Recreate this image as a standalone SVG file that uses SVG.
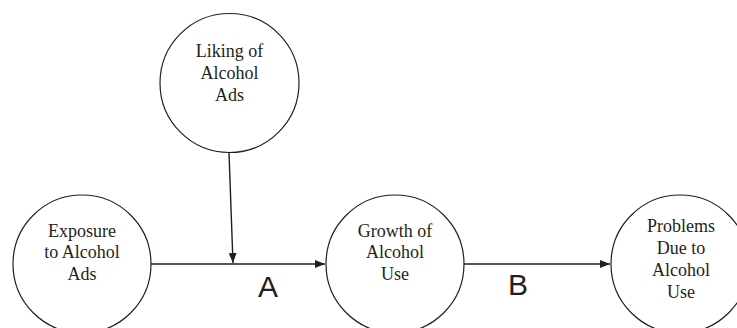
<svg xmlns="http://www.w3.org/2000/svg" width="737" height="328" viewBox="0 0 737 328">
<style>
.node circle{fill:#fff;stroke:#231f20;stroke-width:1.2}
.node text{font-family:"Liberation Serif","Times New Roman",serif;font-size:18px;fill:#231f20;text-anchor:middle}
.conn line{stroke:#231f20;stroke-width:1.4}
.lbl{font-family:"Liberation Sans",Arial,sans-serif;font-size:30px;fill:#231f20;text-anchor:middle}
</style>
<defs>
<marker id="ah" viewBox="0 0 10 8" refX="10" refY="4" markerWidth="10" markerHeight="8" markerUnits="userSpaceOnUse" orient="auto">
<path d="M0,0 L10,4 L0,8 Z" fill="#231f20"/>
</marker>
</defs>
<g class="conn">
<line x1="151" y1="264" x2="325" y2="264" marker-end="url(#ah)"/>
<line x1="229" y1="153" x2="233" y2="263" marker-end="url(#ah)"/>
<line x1="464" y1="264" x2="610" y2="264" marker-end="url(#ah)"/>
<text class="lbl" x="268" y="297">A</text>
<text class="lbl" x="518" y="295">B</text>
</g>
<g class="node" id="liking">
<circle cx="229.5" cy="83" r="69.5"/>
<text x="229.5" y="57">Liking of</text>
<text x="229.5" y="79">Alcohol</text>
<text x="229.5" y="101">Ads</text>
</g>
<g class="node" id="exposure">
<circle cx="82" cy="264" r="69"/>
<text x="82" y="237">Exposure</text>
<text x="82" y="258">to Alcohol</text>
<text x="82" y="280">Ads</text>
</g>
<g class="node" id="growth">
<circle cx="395" cy="264" r="69"/>
<text x="395" y="237">Growth of</text>
<text x="395" y="258">Alcohol</text>
<text x="395" y="280">Use</text>
</g>
<g class="node" id="problems">
<circle cx="680" cy="264" r="69"/>
<text x="681" y="232">Problems</text>
<text x="681" y="254">Due to</text>
<text x="681" y="276">Alcohol</text>
<text x="681" y="298">Use</text>
</g>
</svg>
